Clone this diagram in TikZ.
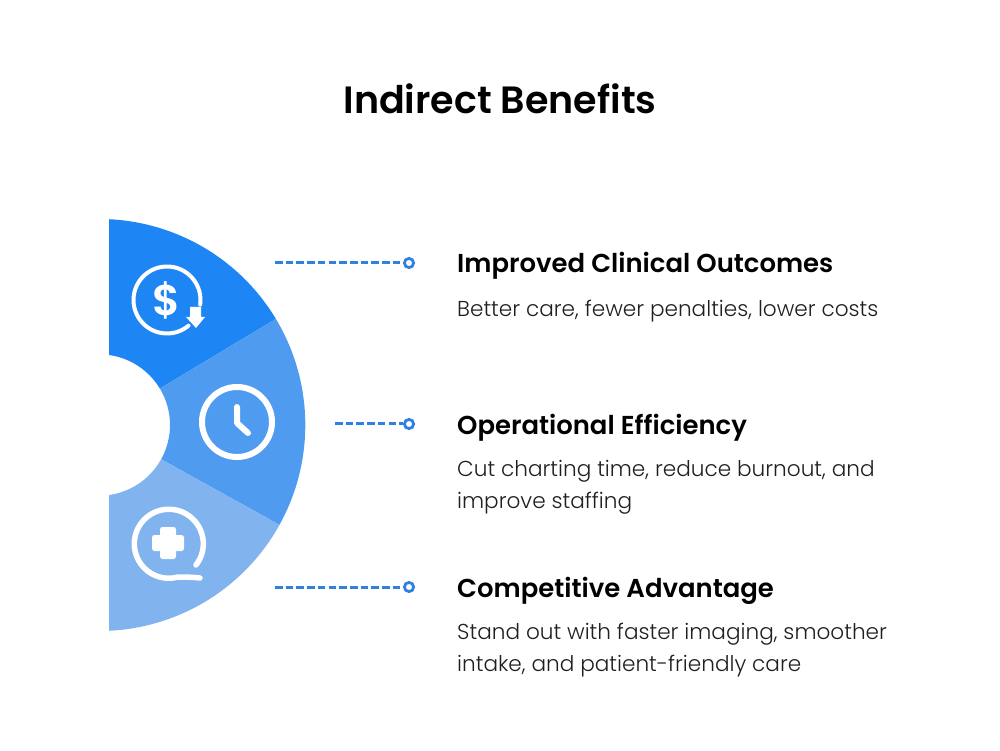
\documentclass[tikz,border=0pt]{standalone}
\usepackage{fontspec}
\setmainfont{Poppins Light}
\newfontfamily\headfont{Poppins SemiBold}
\definecolor{topblue}{HTML}{1E85F5}
\definecolor{midblue}{HTML}{4F9BF0}
\definecolor{lowblue}{HTML}{81B4EF}
\definecolor{leaderblue}{HTML}{2F80E0}
\definecolor{bodygrey}{HTML}{1F1F1F}
\tikzset{
	title/.style={font=\headfont\fontsize{38}{46}\selectfont, anchor=base, inner sep=0pt},
	heading/.style={font=\headfont\fontsize{25.9}{30}\selectfont, anchor=base west, inner sep=0pt},
	detail/.style={font=\fontsize{21.6}{32}\selectfont, text=bodygrey, anchor=base west, inner sep=0pt, align=left},
	ring/.style={circle, draw=leaderblue, fill=white, line width=2.8pt, minimum size=9.2pt, inner sep=0pt},
	leader/.style={leaderblue, line width=3pt, dash pattern=on 7.6pt off 3.1pt},
	icon/.style={white, line width=#1, line cap=round, line join=round}
}
\begin{document}
\begin{tikzpicture}[x=1pt,y=1pt]
	\useasboundingbox (0,0) rectangle (1000,750);

	% half ring, centre a little left of the cut
	\begin{scope}
		\clip (109,0) rectangle (400,750);
		\begin{scope}[shift={(99.3,325)}]
			\fill[topblue] (31:70.7) arc (31:100:70.7) -- (100:206) arc (100:31:206) -- cycle;
			\fill[midblue] (31:70.7) arc (31:-29:70.7) -- (-29:206) arc (-29:31:206) -- cycle;
			\fill[lowblue] (-29:70.7) arc (-29:-100:70.7) -- (-100:206) arc (-100:-29:206) -- cycle;
		\end{scope}
	\end{scope}

	% dollar icon
	\draw[icon=4pt] (167,450) ++(-8:33.5) arc (-8:310:33.5);
	\fill[white] (190,443) -- (201,443) -- (201,433) -- (205,433) -- (196,422) -- (186,433) -- (190,433) -- cycle;
	\node[font=\headfont\fontsize{43}{46}\selectfont, text=white, inner sep=0pt] (dollar) at (167,450) {\$};

	% clock icon
	\draw[icon=6pt] (237,328) circle (35);
	\draw[icon=6pt] (237,343) -- (237,327) -- (248,317);

	% cross icon
	\draw[icon=5.5pt] (196,185) arc (-38:285:34.5) .. controls (186,173) and (190,173) .. (200,172);
	\fill[white, rounded corners=2.5pt] (152,199) rectangle (184,215);
	\fill[white, rounded corners=2.5pt] (160,191) rectangle (176,223);

	\node[title] (heading) at (500,636) {Indirect Benefits};

	\node[ring] (ringa) at (409,487) {};
	\node[ring] (ringb) at (409,326) {};
	\node[ring] (ringc) at (409,163) {};
	\coordinate (starta) at (275,487);
	\coordinate (startb) at (335,326);
	\coordinate (startc) at (275,163);
	\draw[leader] (starta) -- (ringa);
	\draw[leader] (startb) -- (ringb);
	\draw[leader] (startc) -- (ringc);

	\node[heading] (heada) at (457,477) {Improved Clinical Outcomes};
	\node[detail] (texta) at (457,433) {Better care, fewer penalties, lower costs};
	\node[heading] (headb) at (457,316) {Operational Efficiency};
	\node[detail] (textb) at (457,242) {Cut charting time, reduce burnout, and\\improve staffing};
	\node[heading] (headc) at (457,153) {Competitive Advantage};
	\node[detail] (textc) at (457,79) {Stand out with faster imaging, smoother\\intake, and patient-friendly care};
\end{tikzpicture}
\end{document}
